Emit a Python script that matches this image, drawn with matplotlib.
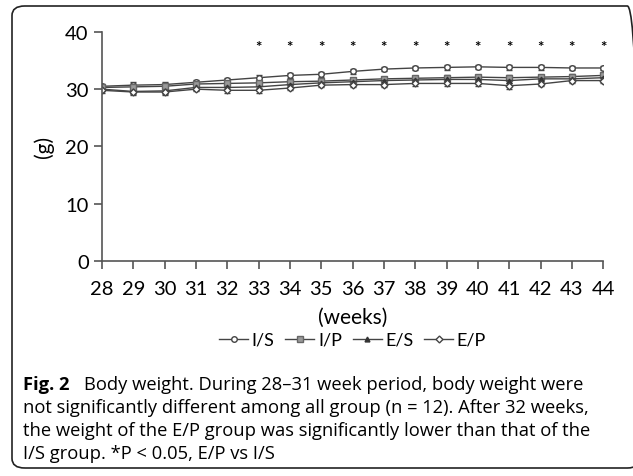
import matplotlib.pyplot as plt
from matplotlib.patches import FancyBboxPatch
from matplotlib.lines import Line2D

plt.rcParams['font.family'] = ['Lato', 'DejaVu Sans']

weeks = list(range(28, 45))
i_s = [30.5, 30.7, 30.8, 31.2, 31.6, 32.0, 32.4, 32.6, 33.1, 33.5, 33.7, 33.8, 33.9, 33.8, 33.8, 33.7, 33.7]
i_p = [30.3, 30.4, 30.5, 30.9, 31.0, 31.1, 31.3, 31.4, 31.6, 31.8, 31.9, 32.0, 32.1, 32.0, 32.1, 32.2, 32.4]
e_s = [30.0, 29.6, 29.7, 30.3, 30.3, 30.4, 30.8, 31.1, 31.3, 31.5, 31.6, 31.7, 31.7, 31.5, 31.8, 31.8, 32.0]
e_p = [29.8, 29.5, 29.5, 30.0, 29.8, 29.8, 30.2, 30.7, 30.8, 30.8, 31.0, 31.0, 31.0, 30.6, 30.9, 31.5, 31.5]
err = [0.4, 0.5, 0.5, 0.4, 0.4, 0.4, 0.4, 0.4, 0.4, 0.4, 0.4, 0.4, 0.4, 0.5, 0.4, 0.4, 0.4]
star_weeks = list(range(33, 45))
star_y = 37.4

fig = plt.figure(figsize=(6.33, 4.77), dpi=100)
ax = fig.add_axes([0.161, 0.451, 0.792, 0.480])

line_c = '#444444'
styles = [
    ('I/S', i_s, dict(marker='o', ms=4, mfc='white', mec=line_c)),
    ('I/P', i_p, dict(marker='s', ms=4, mfc='#999999', mec='#666666')),
    ('E/S', e_s, dict(marker='^', ms=3.5, mfc='#333333', mec='#333333')),
    ('E/P', e_p, dict(marker='D', ms=3.5, mfc='white', mec=line_c)),
]
handles = []
for name, vals, st in styles:
    ax.errorbar(weeks, vals, yerr=err, color=line_c, lw=1, capsize=2, elinewidth=0.8, **st)
    handles.append(Line2D([], [], color=line_c, lw=1, label=name, **st))

for w in star_weeks:
    ax.text(w, star_y, '*', ha='center', va='center', fontsize=11, fontweight='bold')

ax.set_xlim(28, 44)
ax.set_ylim(0, 40)
ax.set_xticks(weeks)
ax.set_yticks([0, 10, 20, 30, 40])
ax.spines['top'].set_visible(False)
ax.spines['right'].set_visible(False)
for s in ['left', 'bottom']:
    ax.spines[s].set_color('#555555')
    ax.spines[s].set_linewidth(1.2)
ax.tick_params(axis='both', labelsize=14.5, color='#555555', length=6, width=1.2, direction='out')
ax.tick_params(axis='x', pad=8)
ax.set_xlabel('(weeks)', fontsize=15, labelpad=7)
ax.set_ylabel('(g)', fontsize=15, labelpad=8)

ax.legend(handles=handles, loc='center', bbox_to_anchor=(0.5, -0.345), ncol=4, frameon=False, fontsize=13,
          handlelength=1.6, handletextpad=0.2, columnspacing=0.6)

box = FancyBboxPatch((12 / 633, 8 / 477), 628 / 633, 462 / 477, boxstyle='round,pad=0,rounding_size=0.02',
                     transform=fig.transFigure, fill=False, ec='#222222', lw=1.2)
box.set_clip_on(False)
fig.patches.append(box)

cap_font = ['Open Sans', 'DejaVu Sans']
cap_size = 13.2
cap_lines = ['Body weight. During 28\u201331 week period, body weight were',
             'not significantly different among all group (n = 12). After 32 weeks,',
             'the weight of the E/P group was significantly lower than that of the',
             'I/S group. *P < 0.05, E/P vs I/S']
fig.text(23 / 633, 1 - 385 / 477, 'Fig. 2', fontsize=cap_size, fontweight='bold', va='center', family=cap_font)
fig.text(84 / 633, 1 - 385 / 477, cap_lines[0], fontsize=cap_size, va='center', family=cap_font)
for i, t in enumerate(cap_lines[1:]):
    fig.text(23 / 633, 1 - (408 + 23 * i) / 477, t, fontsize=cap_size, va='center', family=cap_font)

fig.savefig('out.png', dpi=100)
